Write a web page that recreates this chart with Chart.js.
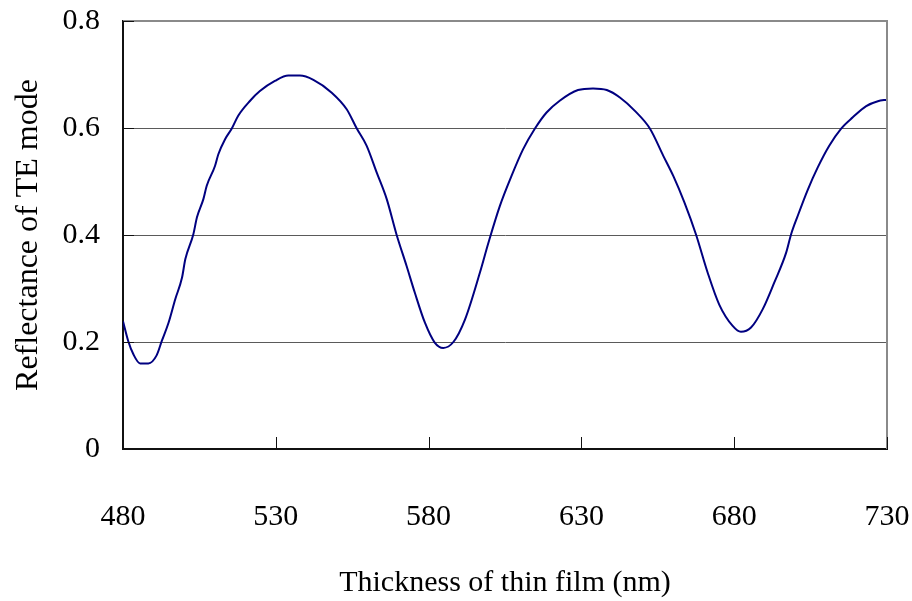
<!DOCTYPE html>
<html>
<head>
<meta charset="utf-8">
<script src="https://cdn.jsdelivr.net/npm/chart.js@4.4.1/dist/chart.umd.min.js"></script>
<style>
  html, body { margin: 0; padding: 0; background: #fff; }
  #wrap { width: 912px; height: 601px; }
</style>
</head>
<body>
<div id="wrap"><canvas id="c"></canvas></div>
<script>
// film thickness (nm)
const thickness = [480, 481.7, 483.4, 485.6, 488.3, 491, 492.7, 494.9, 497.1, 499.3,
  500.4, 503, 504.2, 506.3, 507.4, 510.1, 511.2, 513.4, 515.6, 517.7,
  521.6, 524.8, 529.7, 534.1, 537.9, 542.3, 548.3, 553.2, 556.5, 559.7,
  563, 566.3, 569.5, 572.8, 575.5, 578.8, 582, 584.8, 588.1, 591.9,
  596.8, 599.6, 603.3, 607.1, 610.9, 614.8, 618.6, 622.9, 628.9, 633.8,
  638.3, 642.6, 647.5, 652.4, 656.8, 660.1, 663.7, 667.5, 671.3, 675.1,
  679.5, 682.2, 685.5, 689.3, 693.1, 697, 698.6, 700.8, 704.1, 707.3,
  711.1, 715, 718.8, 723.2, 727, 730];

// reflectance of TE mode at each thickness
const reflectance = [0.239, 0.202, 0.177, 0.160, 0.160, 0.175, 0.202, 0.236, 0.280, 0.320,
  0.355, 0.401, 0.433, 0.467, 0.492, 0.529, 0.551, 0.579, 0.599, 0.623,
  0.651, 0.669, 0.688, 0.698, 0.698, 0.690, 0.666, 0.635, 0.599, 0.567,
  0.517, 0.467, 0.401, 0.342, 0.292, 0.236, 0.199, 0.189, 0.200, 0.242,
  0.330, 0.386, 0.454, 0.510, 0.560, 0.599, 0.629, 0.651, 0.671, 0.674,
  0.671, 0.657, 0.632, 0.599, 0.548, 0.510, 0.461, 0.401, 0.330, 0.270,
  0.230, 0.219, 0.227, 0.261, 0.311, 0.367, 0.401, 0.436, 0.485, 0.526,
  0.567, 0.599, 0.620, 0.641, 0.650, 0.653];

// tick values
const xTicks = [480, 530, 580, 630, 680, 730];
const yTicks = [0, 0.2, 0.4, 0.6, 0.8];

const points = thickness.map((t, i) => ({ x: t, y: reflectance[i] }));
const serif = "'Liberation Serif', 'DejaVu Serif', serif";

// small inward tick marks + grey frame on top/right
const frame = {
  id: "frame",
  afterDraw(chart) {
    const { ctx, chartArea: a, scales } = chart;
    ctx.save();
    ctx.strokeStyle = "#8a8a8a";
    ctx.lineWidth = 2;
    ctx.beginPath();
    ctx.moveTo(a.left, a.top);
    ctx.lineTo(a.right, a.top);
    ctx.lineTo(a.right, a.bottom);
    ctx.stroke();

    ctx.strokeStyle = "#111";
    ctx.lineWidth = 1;
    xTicks.slice(1).forEach((v) => {
      const px = Math.round(scales.x.getPixelForValue(v)) + 0.5;
      ctx.beginPath();
      ctx.moveTo(px, a.bottom);
      ctx.lineTo(px, a.bottom - 12);
      ctx.stroke();
    });
    yTicks.slice(1).forEach((v) => {
      const py = Math.round(scales.y.getPixelForValue(v)) + 0.5;
      ctx.beginPath();
      ctx.moveTo(a.left, py);
      ctx.lineTo(a.left + 11, py);
      ctx.stroke();
    });
    ctx.restore();
  },
};

new Chart(document.getElementById("c"), {
  type: "line",
  data: {
    datasets: [
      {
        data: points,
        borderColor: "#000080",
        borderWidth: 2,
        pointRadius: 0,
        cubicInterpolationMode: "monotone",
        fill: false,
      },
    ],
  },
  options: {
    responsive: true,
    maintainAspectRatio: false,
    animation: false,
    layout: { padding: { left: 0, right: 25, top: 21, bottom: 0 } },
    plugins: { legend: { display: false }, tooltip: { enabled: false } },
    scales: {
      x: {
        type: "linear",
        min: 480,
        max: 730,
        afterBuildTicks: (s) => { s.ticks = xTicks.map((v) => ({ value: v })); },
        afterFit: (s) => {
          s.height = 601 - 449;
          s.paddingLeft = 0;
          s.paddingRight = 0;
        },
        grid: { display: false, drawTicks: false },
        border: { display: true, color: "#111", width: 2 },
        ticks: {
          color: "#000",
          padding: 50,
          maxRotation: 0,
          font: { family: serif, size: 30 },
        },
        title: {
          display: true,
          text: "Thickness of thin film (nm)",
          color: "#000",
          padding: { top: 18, bottom: 0 },
          font: { family: serif, size: 30 },
        },
      },
      y: {
        min: 0,
        max: 0.8,
        afterBuildTicks: (s) => { s.ticks = yTicks.map((v) => ({ value: v })); },
        afterFit: (s) => {
          s.width = 123;
          s.paddingTop = 0;
          s.paddingBottom = 0;
        },
        grid: {
          drawTicks: false,
          color: (c) => (c.tick && c.tick.value > 0 && c.tick.value < 0.8 ? "#5a5a5a" : "rgba(0,0,0,0)"),
          lineWidth: 1,
        },
        border: { display: true, color: "#111", width: 2 },
        ticks: {
          color: "#000",
          padding: 23,
          font: { family: serif, size: 30 },
          callback: (v) => (v === 0 ? "0" : v.toFixed(1)),
        },
        title: {
          display: true,
          text: "Reflectance of TE mode",
          color: "#000",
          padding: { top: 9, bottom: 0 },
          font: { family: serif, size: 32 },
        },
      },
    },
  },
  plugins: [frame],
});
</script>
</body>
</html>
